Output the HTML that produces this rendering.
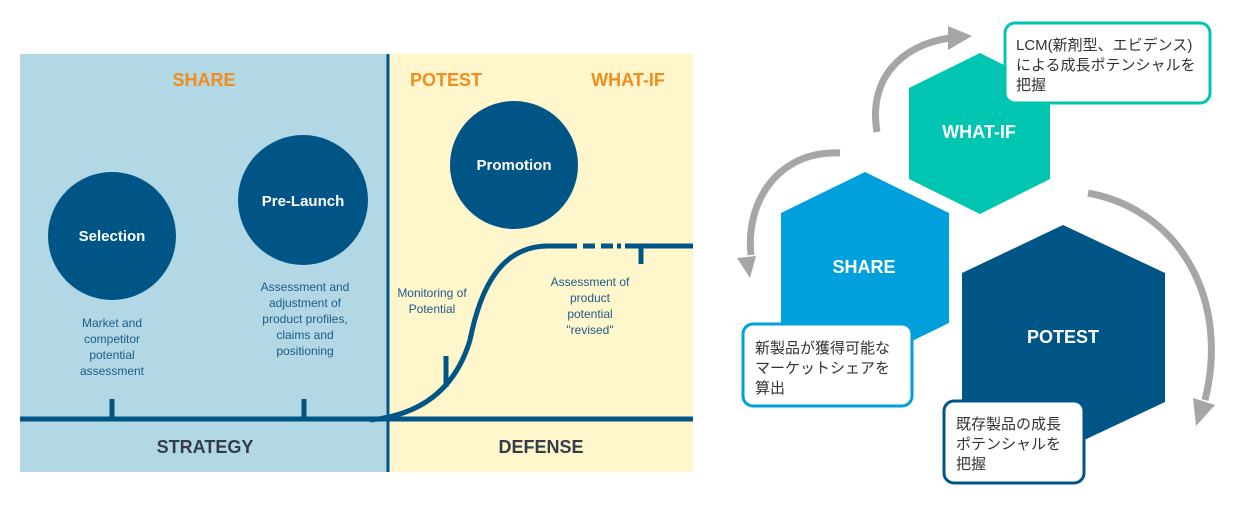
<!DOCTYPE html>
<html><head><meta charset="utf-8"><style>
body{margin:0;width:1250px;height:510px;background:#fff;overflow:hidden}
svg text{font-family:"Liberation Sans","Noto Sans CJK JP",sans-serif}
</style></head><body>
<svg width="1250" height="510" viewBox="0 0 1250 510" xmlns="http://www.w3.org/2000/svg">
<rect x="20" y="54" width="368" height="418" fill="#b2d7e5"/>
<rect x="388" y="54" width="305" height="418" fill="#fff6cc"/>
<line x1="388" y1="54" x2="388" y2="472" stroke="#005587" stroke-width="3"/>
<line x1="20" y1="419" x2="693" y2="419" stroke="#005587" stroke-width="5"/>
<line x1="112" y1="399" x2="112" y2="418" stroke="#005587" stroke-width="5"/>
<line x1="304" y1="399" x2="304" y2="418" stroke="#005587" stroke-width="5"/>
<line x1="446" y1="356" x2="446" y2="387" stroke="#005587" stroke-width="5"/>
<line x1="641" y1="245" x2="641" y2="264" stroke="#005587" stroke-width="5"/>
<path d="M370 420 C420 415 455 390 470 340 C480 290 500 245 550 246 L565 246" fill="none" stroke="#005587" stroke-width="5"/>
<path d="M565 246 L693 246" fill="none" stroke="#005587" stroke-width="5" stroke-dasharray="12,6,12,6,12,4,4,4,200"/>
<circle cx="112" cy="236" r="64" fill="#005587"/>
<circle cx="303" cy="200" r="65" fill="#005587"/>
<circle cx="514" cy="165" r="64" fill="#005587"/>
<g font-weight="bold" fill="#fff" font-size="15" text-anchor="middle">
<text x="112" y="241">Selection</text>
<text x="303" y="206">Pre-Launch</text>
<text x="514" y="170">Promotion</text>
</g>
<g font-weight="bold" fill="#f28c1e" font-size="18" text-anchor="middle">
<text x="204" y="86">SHARE</text>
<text x="446" y="86">POTEST</text>
<text x="628" y="86">WHAT-IF</text>
</g>
<g font-weight="bold" fill="#333d47" font-size="18" text-anchor="middle">
<text x="205" y="453">STRATEGY</text>
<text x="541" y="453">DEFENSE</text>
</g>
<g fill="#1d5c88" font-size="12" text-anchor="middle">
<text x="112" y="327">Market and</text><text x="112" y="343">competitor</text><text x="112" y="359">potential</text><text x="112" y="375">assessment</text>
<text x="305" y="291">Assessment and</text><text x="305" y="307">adjustment of</text><text x="305" y="323">product profiles,</text><text x="305" y="339">claims and</text><text x="305" y="355">positioning</text>
<text x="432" y="297">Monitoring of</text><text x="432" y="313">Potential</text>
<text x="590" y="286">Assessment of</text><text x="590" y="302">product</text><text x="590" y="318">potential</text><text x="590" y="334">"revised"</text>
</g>
<!-- arrows -->
<g fill="none" stroke="#a6a6a6" stroke-width="7">
<path d="M877 132 C868 80 900 45 950 38"/>
<path d="M840 153 C780 150 745 200 751 255"/>
<path d="M1088 193 C1180 210 1230 300 1205 400"/>
</g>
<g fill="#a6a6a6">
<polygon points="948,26 972,36 948,50"/>
<polygon points="737,258 756,256 750,278"/>
<polygon points="1193,398 1215,405 1196,426"/>
</g>
<polygon points="980,53 1050,88 1050,179 980,214 909,179 909,88" fill="#00c5b1"/>
<polygon points="865,172 949,213 949,323 865,364 781,323 781,213" fill="#00a0dc"/>
<polygon points="1063,225 1165,273 1165,402 1063,450 962,402 962,273" fill="#005587"/>
<g font-weight="bold" fill="#fff" font-size="18" text-anchor="middle">
<text x="979" y="138">WHAT-IF</text>
<text x="864" y="273">SHARE</text>
<text x="1063" y="343">POTEST</text>
</g>
<rect x="1005" y="23" width="205" height="80" rx="10" fill="#fff" stroke="#00c5b1" stroke-width="3"/>
<rect x="743" y="324" width="169" height="82" rx="10" fill="#fff" stroke="#00a0dc" stroke-width="3"/>
<rect x="944" y="401" width="140" height="82" rx="10" fill="#fff" stroke="#005587" stroke-width="3"/>
<g fill="#333" font-size="15">
<text x="1016" y="50">LCM(新剤型、エビデンス)</text><text x="1016" y="70">による成長ポテンシャルを</text><text x="1016" y="90">把握</text>
<text x="755" y="353">新製品が獲得可能な</text><text x="755" y="373">マーケットシェアを</text><text x="755" y="393">算出</text>
<text x="956" y="429">既存製品の成長</text><text x="956" y="449">ポテンシャルを</text><text x="956" y="469">把握</text>
</g>
</svg>
</body></html>
